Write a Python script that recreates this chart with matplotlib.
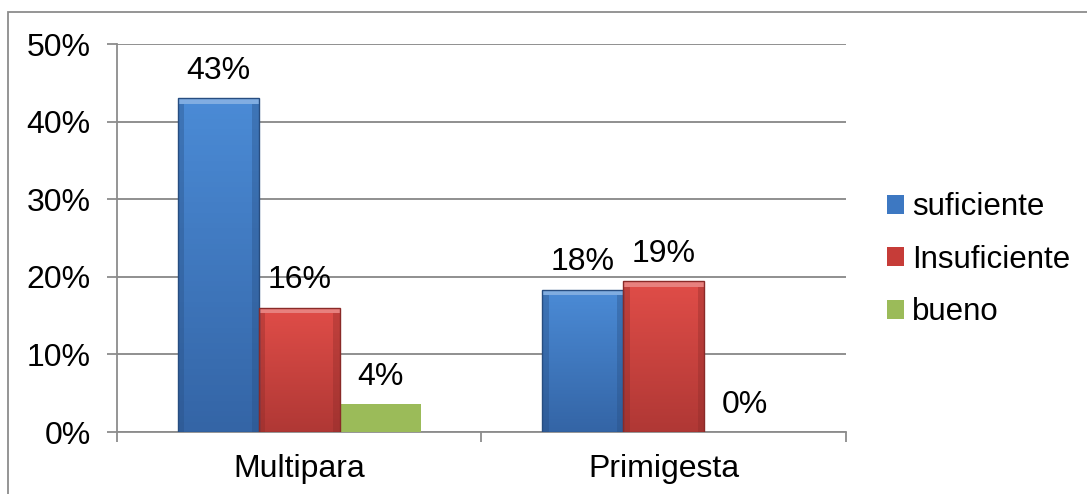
import matplotlib.pyplot as plt
import numpy as np
from matplotlib.patches import Rectangle, Patch
from matplotlib.colors import LinearSegmentedColormap

plt.rcParams['font.family'] = ['Liberation Sans', 'DejaVu Sans']

categories = ['Multipara', 'Primigesta']
series_names = ['suficiente', 'Insuficiente', 'bueno']
suficiente = [0.43, 0.183]
insuficiente = [0.16, 0.194]
bueno = [0.036, 0.0]
yticks = [0, 0.1, 0.2, 0.3, 0.4, 0.5]

series = [suficiente, insuficiente, bueno]
# (top, bottom, edge) shades for the bevelled fill; None = flat colour
shades = [('#4b8bd6', '#3465a6', '#274d80'), ('#e04d48', '#b03835', '#8a2a28'), None]
flat = ['#3d78c2', '#c63c38', '#9bbb59']

fig = plt.figure(figsize=(10.87, 4.94), dpi=100)
ax = fig.add_axes([0.1076, 0.1255, 0.6707, 0.7854])

# outer frame of the chart area
fig.patches.append(Rectangle((8 / 1087, -0.05), 1.1, 1 - 12 / 494 + 0.05,
                             transform=fig.transFigure, fill=False,
                             edgecolor='#8c8c8c', linewidth=1.3, zorder=0))

width = 0.222
x = np.arange(len(categories))
for i, (vals, name) in enumerate(zip(series, series_names)):
    pos = x + (i - 1) * width
    bars = ax.bar(pos, vals, width, color=flat[i], zorder=3, label=name)
    for b, v in zip(bars, vals):
        if shades[i] is not None and v > 0:
            top_c, bot_c, edge_c = shades[i]
            cmap = LinearSegmentedColormap.from_list('g', [bot_c, top_c])
            grad = np.linspace(0, 1, 64)[:, None] * np.ones((1, 8))
            im = ax.imshow(grad, cmap=cmap, aspect='auto', zorder=3.5, origin='lower',
                           extent=(b.get_x(), b.get_x() + width, 0, v),
                           vmin=0, vmax=1)
            im.set_clip_path(b)
            # bevel: light strip on top, darker strips on the sides
            bev = 0.018
            ax.add_patch(Rectangle((b.get_x(), v - 0.007), width, 0.007,
                                   color='white', alpha=0.3, zorder=3.6, lw=0))
            ax.add_patch(Rectangle((b.get_x(), 0), bev, v - 0.007,
                                   color=edge_c, alpha=0.35, zorder=3.6, lw=0))
            ax.add_patch(Rectangle((b.get_x() + width - bev, 0), bev, v - 0.007,
                                   color=edge_c, alpha=0.35, zorder=3.6, lw=0))
            ax.add_patch(Rectangle((b.get_x(), 0), width, v, fill=False,
                                   edgecolor=edge_c, lw=1.0, zorder=3.7))
        ax.annotate(f'{v * 100:.0f}%', (b.get_x() + width / 2, v),
                    xytext=(0, 9), textcoords='offset points',
                    ha='center', va='bottom', fontsize=23, zorder=5)

ax.set_xlim(-0.5, 1.5)
ax.set_ylim(0, 0.5)
ax.set_yticks(yticks)
ax.set_yticklabels([f'{int(t * 100)}%' for t in yticks])
ax.set_xticks(x)
ax.set_xticklabels(categories)
ax.set_xticks([-0.5, 0.5, 1.5], minor=True)
ax.tick_params(axis='x', which='major', length=0, pad=16, labelsize=23)
ax.tick_params(axis='x', which='minor', length=7, color='#8c8c8c', width=1.3)
ax.tick_params(axis='y', length=7, color='#8c8c8c', width=1.3, pad=12, labelsize=23)
ax.yaxis.grid(True, color='#878787', linewidth=1.3, zorder=0)
ax.set_axisbelow(True)
for s in ['top', 'right']:
    ax.spines[s].set_visible(False)
for s in ['left', 'bottom']:
    ax.spines[s].set_color('#8c8c8c')
    ax.spines[s].set_linewidth(1.3)

handles = [Patch(facecolor=c, edgecolor='none') for c in flat]
fig.legend(handles, series_names, loc='center left', bbox_to_anchor=(0.816, 0.474),
           frameon=False, fontsize=22.5, handlelength=0.55, handleheight=0.55,
           handletextpad=0.25, labelspacing=0.72, borderaxespad=0, borderpad=0)

fig.savefig('out.png', dpi=100)
